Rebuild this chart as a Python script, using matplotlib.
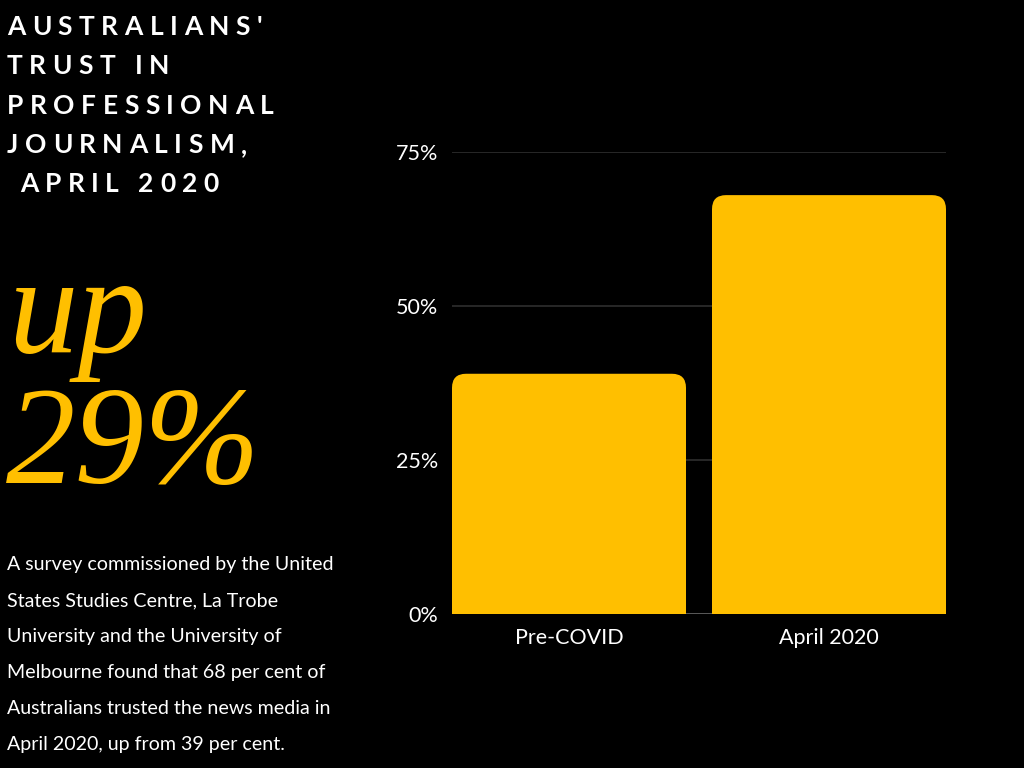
"""Australians' trust in professional journalism - infographic recreation."""
import matplotlib
matplotlib.use("Agg")
import matplotlib.pyplot as plt
from matplotlib.patches import FancyBboxPatch

# ── Data ────────────────────────────────────────────────────
categories = ["Pre-COVID", "April 2020"]
trust_pct = [39, 68]
y_ticks = [0, 25, 50, 75]
y_tick_labels = ["0%", "25%", "50%", "75%"]

title_lines = ["AUSTRALIANS'", "TRUST IN", "PROFESSIONAL", "JOURNALISM,", " APRIL 2020"]
headline = ["up", "29%"]
body_lines = [
    "A survey commissioned by the United",
    "States Studies Centre, La Trobe",
    "University and the University of",
    "Melbourne found that 68 per cent of",
    "Australians trusted the news media in",
    "April 2020, up from 39 per cent.",
]

# ── Colours ─────────────────────────────────────────────────
BG = "#000000"
YELLOW = "#FFBF00"
WHITE = "#FFFFFF"
GRID = "#2E2E2E"
BASE = "#5A5A5A"

W, H = 1024, 768
fig = plt.figure(figsize=(W / 100, H / 100), dpi=100, facecolor=BG)


def px(x, y):
    """pixel coords (top-left origin) -> figure fraction"""
    return x / W, 1 - y / H


# ── Bar chart ───────────────────────────────────────────────
ax = fig.add_axes([452 / W, 1 - 614 / H, 494 / W, 462 / H], facecolor=BG)
xs = list(range(len(categories)))
ax.set_xlim(-0.45, len(categories) - 0.55)
ax.set_ylim(0, 75)

for t in y_ticks[1:]:
    ax.axhline(t, color=GRID, lw=1.2, zorder=0)
ax.axhline(0, color=BASE, lw=1.4, zorder=0)

bar_w = 0.9
bars = ax.bar(xs, [v / 2 for v in trust_pct], width=bar_w, color=YELLOW,
              zorder=2, linewidth=0)

# rounded tops: radius in pixels converted to data units
fig.canvas.draw()
p0 = ax.transData.transform((0, 0))
p1 = ax.transData.transform((1, 1))
px_per_x = p1[0] - p0[0]
px_per_y = p1[1] - p0[1]
r_px = 14
r_x = r_px / px_per_x
aspect = (r_px / px_per_y) / r_x
for x, v in zip(xs, trust_pct):
    ax.add_patch(FancyBboxPatch(
        (x - bar_w / 2, 0), bar_w, v,
        boxstyle=f"round,pad=0,rounding_size={r_x}",
        mutation_aspect=aspect,
        facecolor=YELLOW, edgecolor="none", zorder=2,
    ))

ax.set_yticks(y_ticks)
ax.set_yticklabels(y_tick_labels)
ax.set_xticks(xs)
ax.set_xticklabels(categories)
ax.tick_params(axis="both", length=0, colors=WHITE, labelsize=15.5)
ax.tick_params(axis="y", pad=10)
ax.tick_params(axis="x", pad=10)
for lab in ax.get_xticklabels() + ax.get_yticklabels():
    lab.set_fontfamily("Lato")
for s in ax.spines.values():
    s.set_visible(False)

# ── Title with letter spacing ──────────────────────────────
renderer = fig.canvas.get_renderer()


def text_width(s, **kw):
    t = fig.text(0, 0, s, **kw)
    w = t.get_window_extent(renderer).width
    t.remove()
    return w


def spaced_text(x, y, s, tracking, **kw):
    ref = text_width("||", **kw)
    for ch in s:
        if ch != " ":
            fig.text(*px(x, y), ch, ha="left", va="baseline", **kw)
        x += text_width("|" + ch + "|", **kw) - ref + tracking


title_kw = dict(fontsize=19, fontweight="bold", color=WHITE, fontfamily="Lato")
for i, line in enumerate(title_lines):
    spaced_text(7, 35 + i * 39.3, line, 6.5, **title_kw)

# ── Headline ────────────────────────────────────────────────
head_kw = dict(fontsize=100, fontstyle="italic", color=YELLOW,
               fontfamily="Liberation Serif", ha="left", va="baseline")
fig.text(*px(8, 352), headline[0], **head_kw)
fig.text(*px(6, 483), headline[1], **head_kw)

# ── Body text ───────────────────────────────────────────────
for i, line in enumerate(body_lines):
    fig.text(*px(7, 570 + i * 36), line, fontsize=14.1, color=WHITE,
             fontfamily="Lato", ha="left", va="baseline")

plt.savefig("out.png", dpi=100, facecolor=BG)
plt.close()
